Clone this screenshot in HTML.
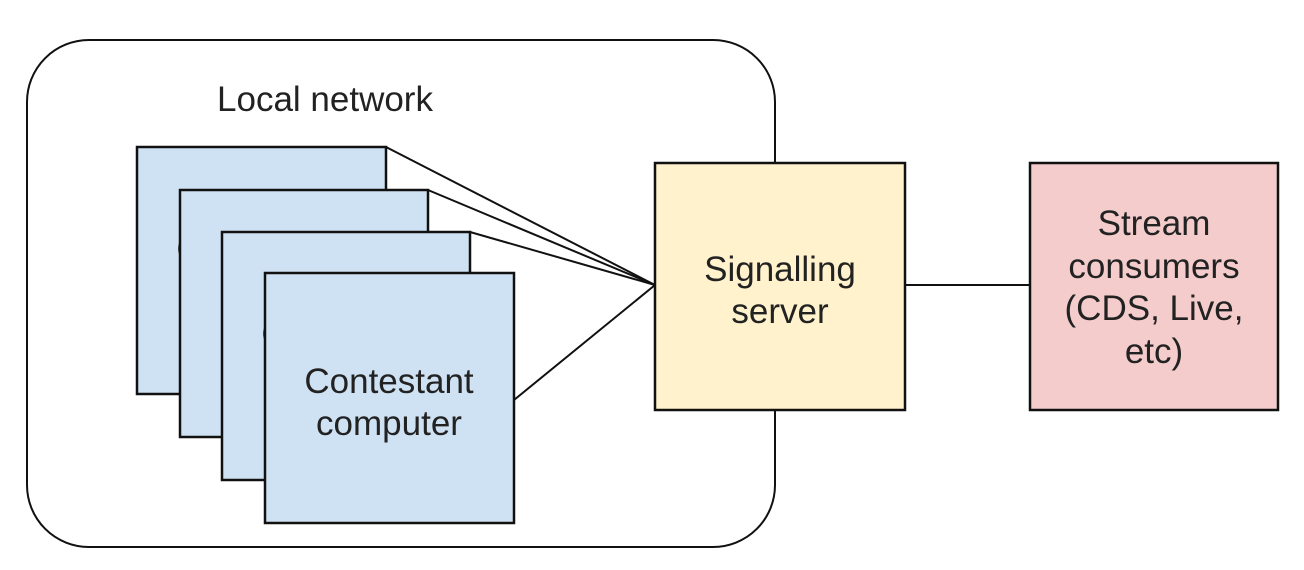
<!DOCTYPE html>
<html><head><meta charset="utf-8"><style>
html,body{margin:0;padding:0;background:#fff;}
svg{display:block}
text{font-family:"Liberation Sans",Arial,sans-serif;fill:#222;}
</style></head><body>
<svg width="1304" height="570" viewBox="0 0 1304 570" xmlns="http://www.w3.org/2000/svg">
<rect x="27" y="40" width="748" height="507" rx="62" ry="62" fill="#fff" stroke="#111" stroke-width="2"/>
<text x="325" y="111" font-size="35" text-anchor="middle">Local network</text>
<g stroke="#111" stroke-width="2">
<line x1="386" y1="147" x2="655" y2="285"/>
<line x1="428" y1="190" x2="655" y2="285"/>
<line x1="470" y1="232" x2="655" y2="285"/>
<line x1="514" y1="400" x2="655" y2="285"/>
<line x1="905" y1="285" x2="1030" y2="285"/>
</g>
<g font-size="35" text-anchor="middle">
<rect x="137" y="147" width="249" height="247" fill="#cfe2f3" stroke="#111" stroke-width="2.5"/>
<text x="261" y="261">Contestant</text><text x="261" y="303">computer</text>
<rect x="180" y="190" width="248" height="247" fill="#cfe2f3" stroke="#111" stroke-width="2.5"/>
<text x="304" y="304">Contestant</text><text x="304" y="346">computer</text>
<rect x="222" y="232" width="248" height="248" fill="#cfe2f3" stroke="#111" stroke-width="2.5"/>
<text x="346" y="346">Contestant</text><text x="346" y="388">computer</text>
<rect x="265" y="273" width="249" height="250" fill="#cfe2f3" stroke="#111" stroke-width="2.5"/>
<text x="389" y="393">Contestant</text><text x="389" y="435">computer</text>
<rect x="655" y="163" width="250" height="247" fill="#fff2cc" stroke="#111" stroke-width="2.5"/>
<text x="780" y="281">Signalling</text><text x="780" y="323">server</text>
<rect x="1030" y="163" width="248" height="247" fill="#f4cccc" stroke="#111" stroke-width="2.5"/>
<text x="1154" y="235">Stream</text><text x="1154" y="278">consumers</text><text x="1154" y="320">(CDS, Live,</text><text x="1154" y="363">etc)</text>
</g>
</svg>
</body></html>
